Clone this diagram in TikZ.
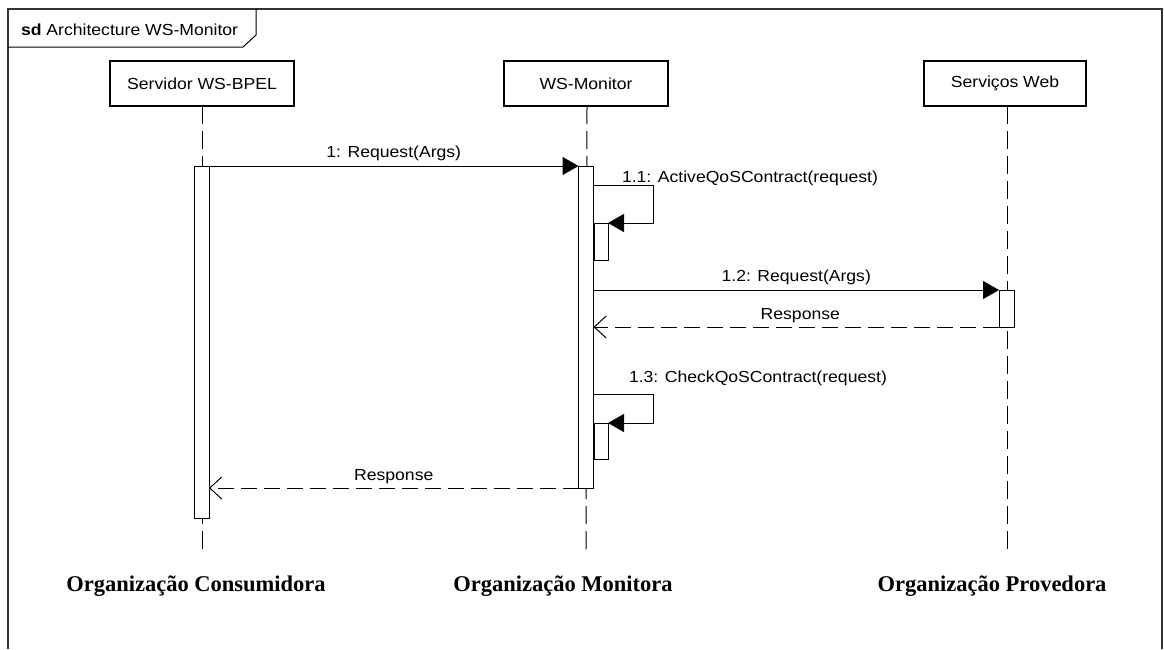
\documentclass[tikz,border=0pt]{standalone}
\usepackage{fontspec}
\setmainfont{Liberation Serif}
\newfontfamily\uifont[FakeStretch=1.10]{Liberation Sans}
\usetikzlibrary{arrows.meta}
\begin{document}
\begin{tikzpicture}[x=1pt,y=-1pt,
  every node/.style={inner sep=0pt,outer sep=0pt},
  lbl/.style={font=\uifont\fontsize{16}{18}\selectfont},
  objbox/.style={draw,line width=2pt,fill=white,minimum height=45pt,lbl},
  actbar/.style={draw,line width=1pt,fill=white,minimum width=15pt},
  lifeline/.style={line width=1pt,dash pattern=on 18pt off 7pt},
  msg/.style={line width=1pt,-{Triangle[length=16pt,width=18pt]}},
  reply/.style={line width=1pt,dash pattern=on 16pt off 7pt,-{Straight Barb[length=12pt,width=22pt,line width=1pt]}},
  org/.style={font=\bfseries\fontsize{22.5}{24}\selectfont}]
\useasboundingbox (0,0) rectangle (1164,649);
\fill[white] (0,0) rectangle (1164,649);
% frame and title tab
\draw[line width=1.5pt,black!80] (8,649) -- (8,9) -- (1162,9) -- (1162,649);
\draw[line width=1pt] (8,47) -- (243,47) -- (256,35) -- (256,9);
\node[lbl,anchor=west] (title) at (21,29.5) {\textbf{sd} Architecture WS-Monitor};
% participants
\node[objbox,minimum width=184pt] (srv) at (202,83.5) {Servidor WS-BPEL};
\node[objbox,minimum width=164pt] (mon) at (586,83.5) {WS-Monitor};
\node[objbox,minimum width=162pt] (sw) at (1005,83.5) {Serviços Web};
% lifelines
\coordinate (srvend) at (202,552);
\coordinate (monend) at (586,552);
\coordinate (swend) at (1007,552);
\draw[lifeline] (srv.south) -- (srvend);
\draw[lifeline] ([xshift=1pt]mon.south) -- (monend);
\draw[lifeline] ([xshift=2pt]sw.south) -- (swend);
% activation bars
\node[actbar,minimum height=352pt] (asrv) at (201.5,342) {};
\node[actbar,minimum height=322pt] (amon) at (586,327) {};
\node[actbar,minimum height=37pt] (asw) at (1006.5,308.5) {};
\node[actbar,minimum width=14pt,minimum height=37pt] (n11) at (601,241.5) {};
\node[actbar,minimum width=14pt,minimum height=36pt] (n13) at (601,441) {};
% messages
\draw[msg] (asrv.north east) -- node[lbl,above=5pt] (m1) {1: Request(Args)} (amon.north west);
\coordinate (s11) at (653,185);
\draw[msg] (amon.east |- s11) -- (s11) |- (n11.north east);
\node[lbl,anchor=south west] (m11) at (622,186) {1.1: ActiveQoSContract(request)};
\draw[msg] (amon.east |- asw.north) -- node[lbl,above=5pt] (m12) {1.2: Request(Args)} (asw.north west);
\draw[reply] (asw.south west) -- node[lbl,above=4pt,pos=0.49] (r12) {Response} (amon.east |- asw.south);
\coordinate (s13) at (653,394);
\draw[msg] (amon.east |- s13) -- (s13) |- (n13.north east);
\node[lbl,anchor=south west] (m13) at (629,386) {1.3: CheckQoSContract(request)};
\draw[reply] (amon.south west) -- node[lbl,above=4pt] (r1) {Response} (asrv.east |- amon.south);
% organisations
\node[org] (oc) at (196,586) {Organização Consumidora};
\node[org] (om) at (563,586) {Organização Monitora};
\node[org] (op) at (992,586) {Organização Provedora};
\end{tikzpicture}
\end{document}
